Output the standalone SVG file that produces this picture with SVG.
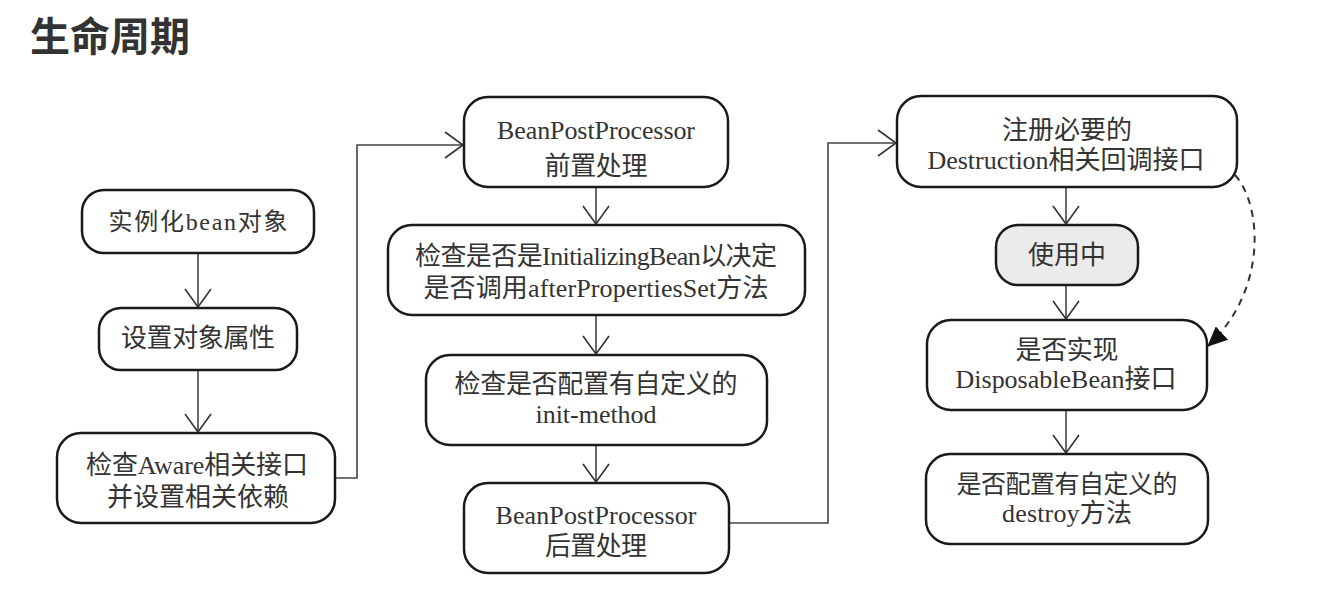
<svg xmlns="http://www.w3.org/2000/svg" width="1322" height="592" viewBox="0 0 1322 592">
  <style>
    .box { fill: #ffffff; stroke: #1a1a1a; stroke-width: 2.5; }
    .gray { fill: #ebebeb; }
    .t { font-family: "Liberation Serif", "Noto Sans CJK SC", serif; font-size: 26px; fill: #333333; text-anchor: middle; }
    .s24 { font-size: 24px; }
    .s25 { font-size: 25px; }
    .title { font-family: "Noto Sans CJK SC", "Noto Sans", sans-serif; font-size: 40px; font-weight: 700; fill: #333333; }
    .edge { fill: none; stroke: #444444; stroke-width: 1.6; }
    .dash { fill: none; stroke: #333333; stroke-width: 2; stroke-dasharray: 7 6; }
  </style>
  <defs>
    <marker id="open" viewBox="0 0 20 28" refX="19" refY="14" markerWidth="20" markerHeight="28" markerUnits="userSpaceOnUse" orient="auto">
      <path d="M1,1 L19,14 L1,27" fill="none" stroke="#333333" stroke-width="1.6"/>
    </marker>
    <marker id="solid" viewBox="0 0 20 18" refX="19" refY="9" markerWidth="20" markerHeight="18" markerUnits="userSpaceOnUse" orient="auto">
      <path d="M0,0 L20,9 L0,18 Z" fill="#111111"/>
    </marker>
  </defs>
  <rect width="1322" height="592" fill="#ffffff"/>
  <text class="title" x="30" y="51">生命周期</text>

  <g id="connectors">
    <path class="edge" d="M198,253 V307" marker-end="url(#open)"/>
    <path class="edge" d="M198,370 V432" marker-end="url(#open)"/>
    <path class="edge" d="M335,478 H357 V145 H463" marker-end="url(#open)"/>
    <path class="edge" d="M596,187 V224" marker-end="url(#open)"/>
    <path class="edge" d="M596,315 V354" marker-end="url(#open)"/>
    <path class="edge" d="M596,445 V482" marker-end="url(#open)"/>
    <path class="edge" d="M729,523 H828 V143 H896" marker-end="url(#open)"/>
    <path class="edge" d="M1066,187 V224" marker-end="url(#open)"/>
    <path class="edge" d="M1066,285 V319" marker-end="url(#open)"/>
    <path class="edge" d="M1066,410 V453" marker-end="url(#open)"/>
    <path class="dash" d="M1235,175 C1262,205 1268,290 1208,346" marker-end="url(#solid)"/>
  </g>

  <g id="n1">
    <rect class="box" x="82" y="190" width="232" height="63" rx="22"/>
    <text class="t s24" x="198" y="230" textLength="179">实例化bean对象</text>
  </g>
  <g id="n2">
    <rect class="box" x="99" y="308" width="198" height="62" rx="22"/>
    <text class="t" x="198" y="347" textLength="154">设置对象属性</text>
  </g>
  <g id="n3">
    <rect class="box" x="57" y="433" width="278" height="90" rx="24"/>
    <text class="t" x="197" y="474" textLength="222">检查Aware相关接口</text>
    <text class="t" x="198" y="506" textLength="182">并设置相关依赖</text>
  </g>
  <g id="n4">
    <rect class="box" x="464" y="97" width="264" height="90" rx="24"/>
    <text class="t" x="596" y="139" textLength="198">BeanPostProcessor</text>
    <text class="t" x="596" y="175" textLength="103">前置处理</text>
  </g>
  <g id="n5">
    <rect class="box" x="388" y="225" width="417" height="90" rx="24"/>
    <text class="t" x="596" y="265" textLength="362">检查是否是InitializingBean以决定</text>
    <text class="t" x="596" y="297" textLength="345">是否调用afterPropertiesSet方法</text>
  </g>
  <g id="n6">
    <rect class="box" x="426" y="355" width="341" height="90" rx="24"/>
    <text class="t" x="596" y="393" textLength="283">检查是否配置有自定义的</text>
    <text class="t" x="596" y="423" textLength="121">init-method</text>
  </g>
  <g id="n7">
    <rect class="box" x="464" y="483" width="265" height="90" rx="24"/>
    <text class="t" x="596" y="524" textLength="201">BeanPostProcessor</text>
    <text class="t" x="596" y="555" textLength="102">后置处理</text>
  </g>
  <g id="n8">
    <rect class="box" x="897" y="96" width="340" height="91" rx="24"/>
    <text class="t" x="1067" y="139" textLength="130">注册必要的</text>
    <text class="t" x="1066" y="169" textLength="277">Destruction相关回调接口</text>
  </g>
  <g id="n9">
    <rect class="box gray" x="996" y="225" width="142" height="60" rx="22"/>
    <text class="t" x="1067" y="264" textLength="78">使用中</text>
  </g>
  <g id="n10">
    <rect class="box" x="927" y="320" width="280" height="90" rx="24"/>
    <text class="t" x="1067" y="359" textLength="103">是否实现</text>
    <text class="t" x="1066" y="388" textLength="221">DisposableBean接口</text>
  </g>
  <g id="n11">
    <rect class="box" x="926" y="454" width="282" height="90" rx="24"/>
    <text class="t s25" x="1067" y="493" textLength="221">是否配置有自定义的</text>
    <text class="t" x="1067" y="522" textLength="130">destroy方法</text>
  </g>
</svg>
